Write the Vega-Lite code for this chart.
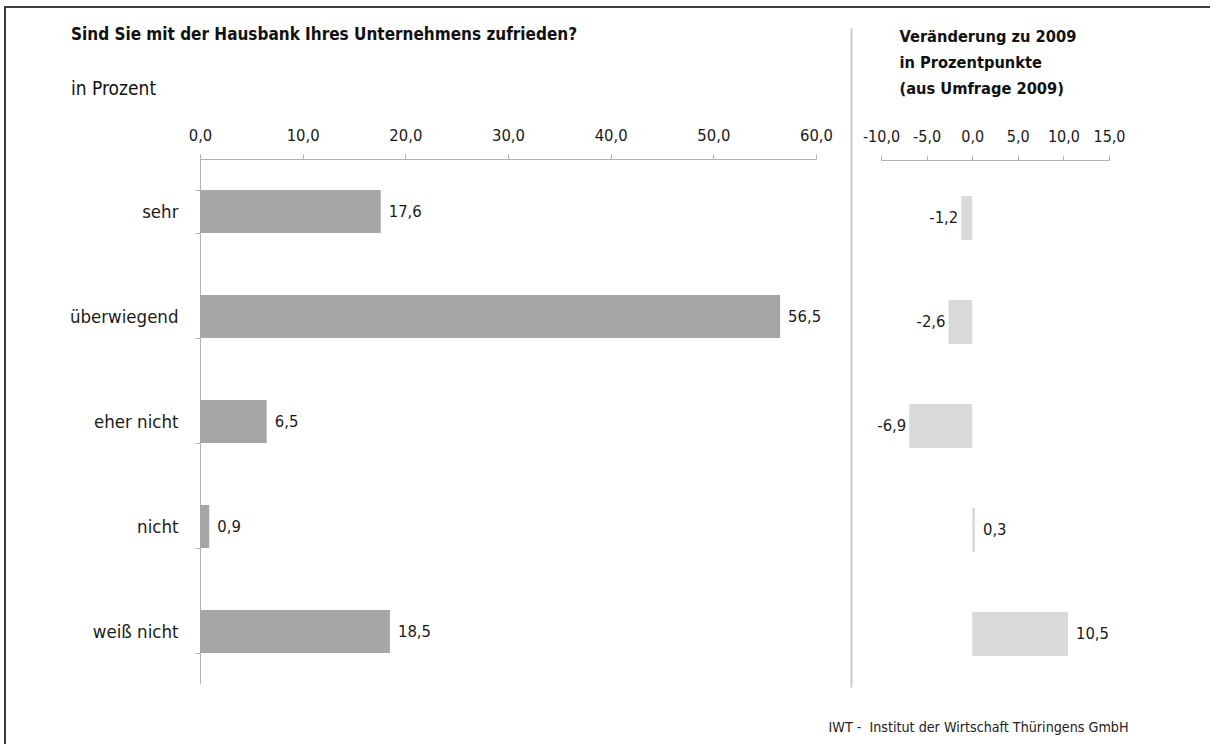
{
  "$schema": "https://vega.github.io/schema/vega-lite/v6.json",
  "autosize": {"type": "none"},
  "padding": {"left": 5, "top": 7, "right": 0, "bottom": 0},
  "width": 1210,
  "height": 740,
  "background": "white",
  "data": {"values": [
    {"kategorie": "sehr", "anteil": 17.6, "veraenderung": -1.2},
    {"kategorie": "überwiegend", "anteil": 56.5, "veraenderung": -2.6},
    {"kategorie": "eher nicht", "anteil": 6.5, "veraenderung": -6.9},
    {"kategorie": "nicht", "anteil": 0.9, "veraenderung": 0.3},
    {"kategorie": "weiß nicht", "anteil": 18.5, "veraenderung": 10.5}
  ]},
  "title": {
    "text": "Sind Sie mit der Hausbank Ihres Unternehmens zufrieden?",
    "subtitle": "in Prozent",
    "anchor": "start",
    "frame": "group",
    "orient": "top",
    "offset": -102,
    "dx": 66,
    "font": "DejaVu Sans Condensed",
    "fontSize": 17,
    "fontWeight": "bold",
    "color": "#111111",
    "subtitleFont": "DejaVu Sans Condensed",
    "subtitleFontSize": 19,
    "subtitleColor": "#111111",
    "subtitlePadding": 36
  },
  "layer": [
    {
      "layer": [
        {
          "mark": {"type": "bar", "color": "#a6a6a6"},
          "encoding": {
            "x": {
              "field": "anteil", "type": "quantitative",
              "scale": {"domain": [0, 60], "range": [195, 811], "nice": false, "zero": true},
              "axis": {
                "orient": "top", "offset": -152,
                "values": [0, 10, 20, 30, 40, 50, 60], "format": ".1f",
                "labelFlush": false, "labelOverlap": false, "labelBound": false,
                "labelPadding": 11, "tickSize": 5, "grid": false, "labelFontSize": 16.5,
                "title": "IWT -\u00a0 Institut der Wirtschaft Thüringens GmbH",
                "titleX": 823, "titleY": 572, "titleAlign": "left", "titleBaseline": "alphabetic",
                "titleFontWeight": "normal", "titleFontSize": 14.2, "titleColor": "#222222", "titleAngle": 0
              }
            },
            "y": {
              "field": "kategorie", "type": "nominal",
              "scale": {"domain": ["sehr", "überwiegend", "eher nicht", "nicht", "weiß nicht"], "range": [152, 677], "paddingInner": 0.59, "paddingOuter": 0.295},
              "axis": {
                "orient": "left", "offset": -195, "title": null,
                "tickBand": "extent", "tickSize": 5, "labelPadding": 17,
                "labelAlign": "right", "labelBaseline": "middle", "labelFontSize": 18.5
              }
            }
          }
        },
        {
          "mark": {"type": "text", "align": "left", "baseline": "middle", "dx": 8, "fontSize": 16.5, "font": "DejaVu Sans Condensed", "color": "#1a1a1a"},
          "encoding": {
            "x": {"field": "anteil", "type": "quantitative"},
            "y": {"field": "kategorie", "type": "nominal"},
            "text": {"field": "anteil", "type": "quantitative", "format": ".1f"}
          }
        }
      ]
    },
    {
      "layer": [
        {
          "mark": {"type": "bar", "color": "#d9d9d9"},
          "encoding": {
            "x": {
              "field": "veraenderung", "type": "quantitative",
              "scale": {"domain": [-10, 15], "range": [876, 1104], "nice": false, "zero": true},
              "axis": {
                "orient": "top", "offset": -153,
                "values": [-10, -5, 0, 5, 10, 15], "format": ".1f",
                "labelFlush": false, "labelOverlap": false, "labelBound": false,
                "labelPadding": 11, "tickSize": 5, "grid": false, "labelFontSize": 16,
                "title": ["Veränderung zu 2009", "in Prozentpunkte", "(aus Umfrage 2009)"],
                "titleX": 894, "titleY": -119, "titleAlign": "left", "titleBaseline": "alphabetic",
                "titleLineHeight": 26, "titleFontWeight": "bold", "titleFontSize": 16.3, "titleColor": "#111111", "titleAngle": 0
              }
            },
            "y": {
              "field": "kategorie", "type": "nominal",
              "scale": {"domain": ["sehr", "überwiegend", "eher nicht", "nicht", "weiß nicht"], "range": [21, 680], "paddingInner": 0.577, "paddingOuter": 0.957, "align": 0.844},
              "axis": {
                "orient": "left", "offset": -846, "title": null,
                "labels": false, "ticks": false, "domain": true,
                "domainColor": "#cccccc", "domainWidth": 2
              }
            }
          }
        },
        {
          "transform": [{"filter": "datum.veraenderung < 0"}],
          "mark": {"type": "text", "align": "right", "baseline": "middle", "dx": -3, "fontSize": 16.5, "font": "DejaVu Sans Condensed", "color": "#1a1a1a"},
          "encoding": {
            "x": {"field": "veraenderung", "type": "quantitative"},
            "y": {"field": "kategorie", "type": "nominal"},
            "text": {"field": "veraenderung", "type": "quantitative", "format": ".1f"}
          }
        },
        {
          "transform": [{"filter": "datum.veraenderung >= 0"}],
          "mark": {"type": "text", "align": "left", "baseline": "middle", "dx": 8, "fontSize": 16.5, "font": "DejaVu Sans Condensed", "color": "#1a1a1a"},
          "encoding": {
            "x": {"field": "veraenderung", "type": "quantitative"},
            "y": {"field": "kategorie", "type": "nominal"},
            "text": {"field": "veraenderung", "type": "quantitative", "format": ".1f"}
          }
        }
      ]
    }
  ],
  "resolve": {
    "scale": {"x": "independent", "y": "independent"},
    "axis": {"x": "independent", "y": "independent"}
  },
  "config": {
    "locale": {"number": {"decimal": ",", "thousands": ".", "grouping": [3], "currency": ["", " €"], "minus": "-"}},
    "view": {"stroke": "#3c3c3c", "strokeWidth": 2},
    "font": "DejaVu Sans Condensed",
    "axis": {
      "labelFont": "DejaVu Sans Condensed",
      "labelFontSize": 16,
      "labelColor": "#1a1a1a",
      "titleFont": "DejaVu Sans Condensed",
      "domainColor": "#b3b3b3",
      "tickColor": "#b3b3b3",
      "domainWidth": 1,
      "tickWidth": 1
    }
  }
}
